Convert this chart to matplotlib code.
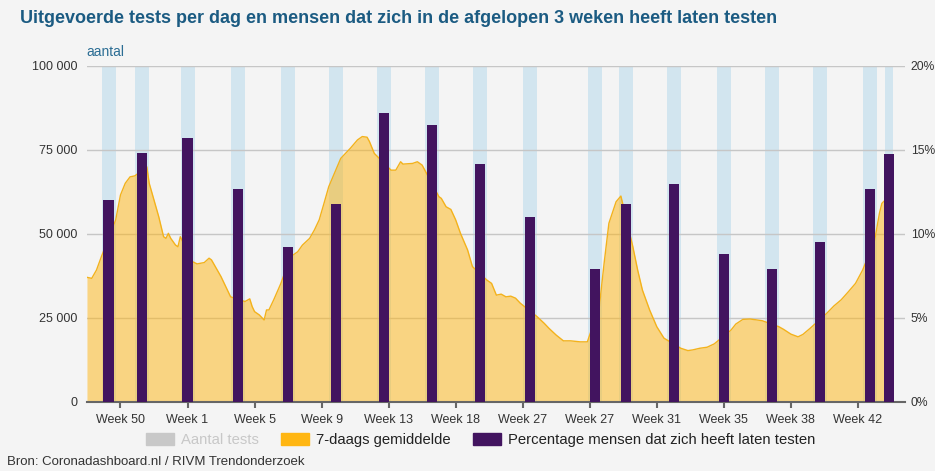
import matplotlib.pyplot as plt
import matplotlib.ticker as mticker
import numpy as np

plt.rcParams['font.family'] = ['Liberation Sans', 'DejaVu Sans']

# tijd in dagen vanaf het begin van de grafiek
week_labels = ['Week 50', 'Week 1', 'Week 5', 'Week 9', 'Week 13', 'Week 18',
               'Week 27', 'Week 27', 'Week 31', 'Week 35', 'Week 38', 'Week 42']

# 7-daags gemiddelde aantal tests
avg_days = [0, 2, 4, 6, 12, 14, 16, 18, 20, 25, 26, 28, 30, 32, 33, 34, 35, 37, 38, 39,
            44, 46, 49, 51, 52, 54, 56, 58, 60, 66, 68, 69, 70, 72, 74, 75, 76, 78, 81,
            85, 88, 90, 93, 95, 97, 99, 101, 106, 108, 110, 113, 115, 117, 118, 120,
            127, 129, 131, 132, 136, 138, 140, 147, 148, 150, 152, 154, 156, 159, 161,
            167, 169, 171, 173, 175, 177, 179, 181, 188, 191, 193, 196, 199, 202, 206, 209,
            214, 216, 218, 221, 223, 228, 230, 232, 235, 238, 241, 248, 251, 253, 256, 259,
            262, 269, 271, 274, 277, 280, 282, 289, 291, 294, 297, 299, 302, 309, 312, 315,
            318, 321, 324, 329, 331, 332, 336]
avg_tests = [37100, 36800, 39300, 43200, 54200, 61600, 65100, 67000, 67300, 70000, 65100,
             60100, 55100, 49200, 48700, 50200, 48700, 46700, 46200, 49200,
             41800, 41100, 41500, 42800, 42300, 39800, 37300, 34300, 31300, 29900, 30700,
             28400, 26900, 25900, 24400, 27400, 27400, 30400, 35300,
             43200, 44700, 46700, 48700, 51200, 54200, 59100, 64100, 72500, 74000, 75500,
             78000, 79000, 78800, 77500, 74000,
             69000, 69000, 71500, 70800, 71000, 71500, 70500, 61100, 60600, 58100, 57300,
             54200, 50200, 45200, 40300,
             36300, 35300, 31800, 32100, 31300, 31500, 30900, 29400, 25400, 23400, 21900,
             19900, 18200, 18200, 17900, 17900,
             28400, 41300, 53200, 59600, 61300, 46200, 39300, 33300, 27400, 22400, 19000,
             16000, 15300, 15500, 16000, 16300,
             17300, 21400, 23200, 24600, 24700, 24400, 24200, 22400, 21600, 20200, 19400,
             20100, 21900, 26400, 28600, 30400,
             32800, 35300, 39300, 48200, 56200, 59100, 62000]

# meetrondes trendonderzoek
round_days = [9, 23, 42, 63, 84, 104, 124, 144, 164, 185, 212, 225, 245, 266, 286, 306, 327, 335]
pct_tested = [12.0, 14.8, 15.7, 12.7, 9.25, 11.8, 17.2, 16.5, 14.15, 11.0, 7.9, 11.8,
              13.0, 8.8, 7.9, 9.5, 12.7, 14.75]

bg = '#f4f4f4'
purple = '#42145f'
orange = '#ffb612'
band = '#d2e5ef'

fig = plt.figure(figsize=(9.35, 4.71), dpi=100, facecolor=bg)
ax = fig.add_axes([0.093, 0.1465, 0.875, 0.7134])
ax.set_facecolor(bg)

band_w = np.full(len(round_days), 5.85)
band_w[-1] = 3.4
ax.bar(round_days, [100000] * len(round_days), width=band_w, color=band, zorder=1)
ax.fill_between(avg_days, avg_tests, color=orange, alpha=0.5, lw=0, zorder=3)
ax.plot(avg_days, avg_tests, color='#f3b21c', lw=1, zorder=3)

ax.set_xlim(0, 341.7)
ax.set_ylim(0, 100000)
ax.set_yticks([0, 25000, 50000, 75000, 100000])
ax.yaxis.set_major_formatter(mticker.FuncFormatter(lambda v, p: f'{int(v):,}'.replace(',', ' ')))
ax.grid(axis='y', color='#c6c6c6', lw=1, zorder=2)
ax.set_axisbelow(False)
ax.set_xticks(14 + 28 * np.arange(len(week_labels)))
ax.set_xticklabels(week_labels)
ax.tick_params(axis='x', length=4, width=1.5, color='#666666', labelsize=9,
               labelcolor='#333333', pad=5)
ax.tick_params(axis='y', length=0, labelsize=9, labelcolor='#333333', pad=7)
for s in ['top', 'left', 'right']:
    ax.spines[s].set_visible(False)
ax.spines['bottom'].set_color('#666666')
ax.spines['bottom'].set_linewidth(1.5)
ax.spines['bottom'].set_zorder(5)

ax2 = ax.twinx()
ax2.bar(round_days, pct_tested, width=4.2, color=purple, zorder=4)
ax2.set_ylim(0, 20)
ax2.set_yticks([0, 5, 10, 15, 20])
ax2.yaxis.set_major_formatter(mticker.FuncFormatter(lambda v, p: f'{v:.0f}%'))
ax2.tick_params(axis='y', length=0, labelsize=8.7, labelcolor='#333333', pad=4)
for s in ['top', 'left', 'right', 'bottom']:
    ax2.spines[s].set_visible(False)

fig.text(0.021, 0.96, 'Uitgevoerde tests per dag en mensen dat zich in de afgelopen 3 weken heeft laten testen',
         fontsize=13, fontweight='bold', color='#1b5b82', va='center')
fig.text(0.092, 0.889, 'aantal', fontsize=10, color='#2b6d94', va='center')
fig.text(0.008, 0.019, 'Bron: Coronadashboard.nl / RIVM Trendonderzoek', fontsize=9.5,
         color='#333333', va='center')

handles = [plt.Rectangle((0, 0), 1, 1, color='#c8c8c8'),
           plt.Rectangle((0, 0), 1, 1, color=orange),
           plt.Rectangle((0, 0), 1, 1, color=purple)]
leg = fig.legend(handles, ['Aantal tests', '7-daags gemiddelde',
                           'Percentage mensen dat zich heeft laten testen'],
                 loc='center', bbox_to_anchor=(0.514, 0.066), ncol=3, frameon=False,
                 fontsize=10.7, handlelength=1.9, handleheight=0.85, handletextpad=0.45,
                 columnspacing=1.5)
leg.get_texts()[0].set_color('#c8c8c8')
leg.get_texts()[1].set_color('#222222')
leg.get_texts()[2].set_color('#222222')

fig.savefig('out.png', dpi=100, facecolor=bg)
